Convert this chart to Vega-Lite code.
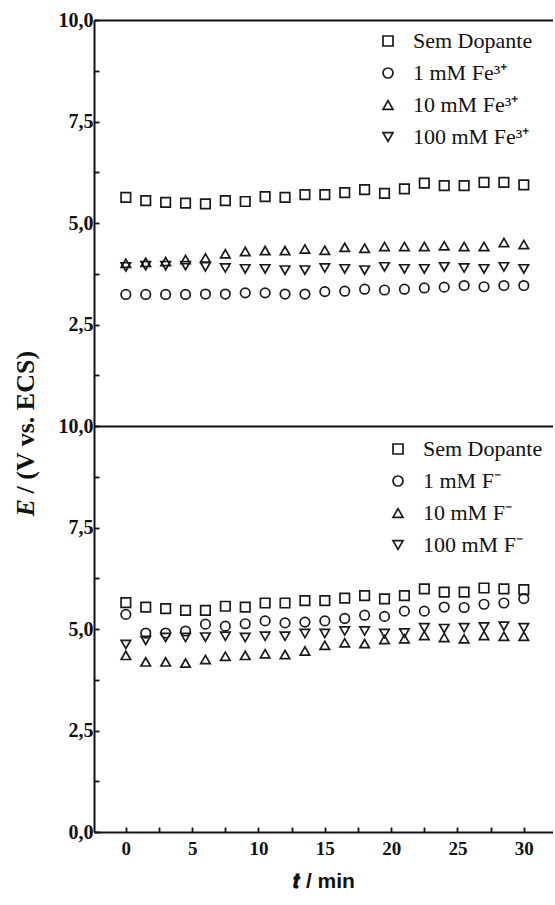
{
  "$schema": "https://vega.github.io/schema/vega-lite/v6.json",
  "background": "white",
  "padding": {"left": 12, "top": 10, "right": 0, "bottom": 2},
  "config": {
    "view": {"stroke": null},
    "axis": {
      "domainColor": "#111", "domainWidth": 2,
      "tickColor": "#111", "tickWidth": 1.8, "tickSize": -5,
      "labelFont": "Liberation Serif", "labelFontWeight": "bold", "labelFontSize": 20, "labelColor": "#111",
      "titleColor": "#111"
    }
  },
  "datasets": {
    "fe": [
      {"s":"Sem Dopante","t":0,"E":5.63},{"s":"Sem Dopante","t":1.5,"E":5.55},{"s":"Sem Dopante","t":3,"E":5.51},{"s":"Sem Dopante","t":4.5,"E":5.49},{"s":"Sem Dopante","t":6,"E":5.47},{"s":"Sem Dopante","t":7.5,"E":5.55},{"s":"Sem Dopante","t":9,"E":5.53},{"s":"Sem Dopante","t":10.5,"E":5.65},{"s":"Sem Dopante","t":12,"E":5.63},{"s":"Sem Dopante","t":13.5,"E":5.7},{"s":"Sem Dopante","t":15,"E":5.7},{"s":"Sem Dopante","t":16.5,"E":5.75},{"s":"Sem Dopante","t":18,"E":5.82},{"s":"Sem Dopante","t":19.5,"E":5.73},{"s":"Sem Dopante","t":21,"E":5.84},{"s":"Sem Dopante","t":22.5,"E":5.98},{"s":"Sem Dopante","t":24,"E":5.92},{"s":"Sem Dopante","t":25.5,"E":5.92},{"s":"Sem Dopante","t":27,"E":6.0},{"s":"Sem Dopante","t":28.5,"E":6.0},{"s":"Sem Dopante","t":30,"E":5.94},
      {"s":"1 mM Fe³⁺","t":0,"E":3.24},{"s":"1 mM Fe³⁺","t":1.5,"E":3.24},{"s":"1 mM Fe³⁺","t":3,"E":3.24},{"s":"1 mM Fe³⁺","t":4.5,"E":3.24},{"s":"1 mM Fe³⁺","t":6,"E":3.25},{"s":"1 mM Fe³⁺","t":7.5,"E":3.25},{"s":"1 mM Fe³⁺","t":9,"E":3.28},{"s":"1 mM Fe³⁺","t":10.5,"E":3.28},{"s":"1 mM Fe³⁺","t":12,"E":3.25},{"s":"1 mM Fe³⁺","t":13.5,"E":3.25},{"s":"1 mM Fe³⁺","t":15,"E":3.31},{"s":"1 mM Fe³⁺","t":16.5,"E":3.32},{"s":"1 mM Fe³⁺","t":18,"E":3.37},{"s":"1 mM Fe³⁺","t":19.5,"E":3.35},{"s":"1 mM Fe³⁺","t":21,"E":3.37},{"s":"1 mM Fe³⁺","t":22.5,"E":3.4},{"s":"1 mM Fe³⁺","t":24,"E":3.42},{"s":"1 mM Fe³⁺","t":25.5,"E":3.46},{"s":"1 mM Fe³⁺","t":27,"E":3.43},{"s":"1 mM Fe³⁺","t":28.5,"E":3.46},{"s":"1 mM Fe³⁺","t":30,"E":3.46},
      {"s":"10 mM Fe³⁺","t":0,"E":4.01},{"s":"10 mM Fe³⁺","t":1.5,"E":4.03},{"s":"10 mM Fe³⁺","t":3,"E":4.05},{"s":"10 mM Fe³⁺","t":4.5,"E":4.1},{"s":"10 mM Fe³⁺","t":6,"E":4.14},{"s":"10 mM Fe³⁺","t":7.5,"E":4.24},{"s":"10 mM Fe³⁺","t":9,"E":4.3},{"s":"10 mM Fe³⁺","t":10.5,"E":4.32},{"s":"10 mM Fe³⁺","t":12,"E":4.32},{"s":"10 mM Fe³⁺","t":13.5,"E":4.36},{"s":"10 mM Fe³⁺","t":15,"E":4.33},{"s":"10 mM Fe³⁺","t":16.5,"E":4.4},{"s":"10 mM Fe³⁺","t":18,"E":4.38},{"s":"10 mM Fe³⁺","t":19.5,"E":4.42},{"s":"10 mM Fe³⁺","t":21,"E":4.42},{"s":"10 mM Fe³⁺","t":22.5,"E":4.42},{"s":"10 mM Fe³⁺","t":24,"E":4.44},{"s":"10 mM Fe³⁺","t":25.5,"E":4.42},{"s":"10 mM Fe³⁺","t":27,"E":4.42},{"s":"10 mM Fe³⁺","t":28.5,"E":4.52},{"s":"10 mM Fe³⁺","t":30,"E":4.47},
      {"s":"100 mM Fe³⁺","t":0,"E":3.92},{"s":"100 mM Fe³⁺","t":1.5,"E":3.95},{"s":"100 mM Fe³⁺","t":3,"E":3.95},{"s":"100 mM Fe³⁺","t":4.5,"E":3.95},{"s":"100 mM Fe³⁺","t":6,"E":3.92},{"s":"100 mM Fe³⁺","t":7.5,"E":3.89},{"s":"100 mM Fe³⁺","t":9,"E":3.87},{"s":"100 mM Fe³⁺","t":10.5,"E":3.87},{"s":"100 mM Fe³⁺","t":12,"E":3.84},{"s":"100 mM Fe³⁺","t":13.5,"E":3.84},{"s":"100 mM Fe³⁺","t":15,"E":3.89},{"s":"100 mM Fe³⁺","t":16.5,"E":3.87},{"s":"100 mM Fe³⁺","t":18,"E":3.84},{"s":"100 mM Fe³⁺","t":19.5,"E":3.92},{"s":"100 mM Fe³⁺","t":21,"E":3.87},{"s":"100 mM Fe³⁺","t":22.5,"E":3.87},{"s":"100 mM Fe³⁺","t":24,"E":3.92},{"s":"100 mM Fe³⁺","t":25.5,"E":3.89},{"s":"100 mM Fe³⁺","t":27,"E":3.87},{"s":"100 mM Fe³⁺","t":28.5,"E":3.92},{"s":"100 mM Fe³⁺","t":30,"E":3.87}
    ],
    "f": [
      {"s":"Sem Dopante","t":0,"E":5.65},{"s":"Sem Dopante","t":1.5,"E":5.54},{"s":"Sem Dopante","t":3,"E":5.5},{"s":"Sem Dopante","t":4.5,"E":5.46},{"s":"Sem Dopante","t":6,"E":5.46},{"s":"Sem Dopante","t":7.5,"E":5.56},{"s":"Sem Dopante","t":9,"E":5.54},{"s":"Sem Dopante","t":10.5,"E":5.64},{"s":"Sem Dopante","t":12,"E":5.64},{"s":"Sem Dopante","t":13.5,"E":5.7},{"s":"Sem Dopante","t":15,"E":5.7},{"s":"Sem Dopante","t":16.5,"E":5.76},{"s":"Sem Dopante","t":18,"E":5.82},{"s":"Sem Dopante","t":19.5,"E":5.74},{"s":"Sem Dopante","t":21,"E":5.82},{"s":"Sem Dopante","t":22.5,"E":5.99},{"s":"Sem Dopante","t":24,"E":5.91},{"s":"Sem Dopante","t":25.5,"E":5.91},{"s":"Sem Dopante","t":27,"E":6.01},{"s":"Sem Dopante","t":28.5,"E":5.99},{"s":"Sem Dopante","t":30,"E":5.97},
      {"s":"1 mM F⁻","t":0,"E":5.36},{"s":"1 mM F⁻","t":1.5,"E":4.9},{"s":"1 mM F⁻","t":3,"E":4.9},{"s":"1 mM F⁻","t":4.5,"E":4.95},{"s":"1 mM F⁻","t":6,"E":5.12},{"s":"1 mM F⁻","t":7.5,"E":5.07},{"s":"1 mM F⁻","t":9,"E":5.13},{"s":"1 mM F⁻","t":10.5,"E":5.2},{"s":"1 mM F⁻","t":12,"E":5.15},{"s":"1 mM F⁻","t":13.5,"E":5.17},{"s":"1 mM F⁻","t":15,"E":5.2},{"s":"1 mM F⁻","t":16.5,"E":5.26},{"s":"1 mM F⁻","t":18,"E":5.34},{"s":"1 mM F⁻","t":19.5,"E":5.31},{"s":"1 mM F⁻","t":21,"E":5.44},{"s":"1 mM F⁻","t":22.5,"E":5.44},{"s":"1 mM F⁻","t":24,"E":5.54},{"s":"1 mM F⁻","t":25.5,"E":5.53},{"s":"1 mM F⁻","t":27,"E":5.61},{"s":"1 mM F⁻","t":28.5,"E":5.64},{"s":"1 mM F⁻","t":30,"E":5.75},
      {"s":"10 mM F⁻","t":0,"E":4.35},{"s":"10 mM F⁻","t":1.5,"E":4.19},{"s":"10 mM F⁻","t":3,"E":4.19},{"s":"10 mM F⁻","t":4.5,"E":4.16},{"s":"10 mM F⁻","t":6,"E":4.25},{"s":"10 mM F⁻","t":7.5,"E":4.33},{"s":"10 mM F⁻","t":9,"E":4.35},{"s":"10 mM F⁻","t":10.5,"E":4.39},{"s":"10 mM F⁻","t":12,"E":4.37},{"s":"10 mM F⁻","t":13.5,"E":4.46},{"s":"10 mM F⁻","t":15,"E":4.6},{"s":"10 mM F⁻","t":16.5,"E":4.66},{"s":"10 mM F⁻","t":18,"E":4.64},{"s":"10 mM F⁻","t":19.5,"E":4.74},{"s":"10 mM F⁻","t":21,"E":4.76},{"s":"10 mM F⁻","t":22.5,"E":4.84},{"s":"10 mM F⁻","t":24,"E":4.79},{"s":"10 mM F⁻","t":25.5,"E":4.76},{"s":"10 mM F⁻","t":27,"E":4.84},{"s":"10 mM F⁻","t":28.5,"E":4.82},{"s":"10 mM F⁻","t":30,"E":4.82},
      {"s":"100 mM F⁻","t":0,"E":4.62},{"s":"100 mM F⁻","t":1.5,"E":4.72},{"s":"100 mM F⁻","t":3,"E":4.79},{"s":"100 mM F⁻","t":4.5,"E":4.79},{"s":"100 mM F⁻","t":6,"E":4.8},{"s":"100 mM F⁻","t":7.5,"E":4.82},{"s":"100 mM F⁻","t":9,"E":4.79},{"s":"100 mM F⁻","t":10.5,"E":4.82},{"s":"100 mM F⁻","t":12,"E":4.82},{"s":"100 mM F⁻","t":13.5,"E":4.89},{"s":"100 mM F⁻","t":15,"E":4.89},{"s":"100 mM F⁻","t":16.5,"E":4.95},{"s":"100 mM F⁻","t":18,"E":4.95},{"s":"100 mM F⁻","t":19.5,"E":4.89},{"s":"100 mM F⁻","t":21,"E":4.9},{"s":"100 mM F⁻","t":22.5,"E":5.03},{"s":"100 mM F⁻","t":24,"E":5.01},{"s":"100 mM F⁻","t":25.5,"E":5.03},{"s":"100 mM F⁻","t":27,"E":5.05},{"s":"100 mM F⁻","t":28.5,"E":5.07},{"s":"100 mM F⁻","t":30,"E":5.03}
    ]
  },
  "spacing": 0,
  "bounds": "flush",
  "resolve": {"scale": {"shape": "independent"}, "legend": {"shape": "independent"}},
  "vconcat": [
    {
      "width": 459, "height": 406,
      "data": {"name": "fe"},
      "mark": {"type": "point", "filled": false, "color": "#1a1a1a", "strokeWidth": 1.7, "size": 90, "opacity": 1},
      "encoding": {
        "x": {"field": "t", "type": "quantitative", "scale": {"domain": [-2.4, 32.2], "nice": false, "zero": false}, "axis": null},
        "y": {"field": "E", "type": "quantitative", "scale": {"domain": [0, 10], "nice": false},
          "axis": {
            "values": [1.25, 2.5, 3.75, 5, 6.25, 7.5, 8.75, 10],
            "labelExpr": "datum.value % 2.5 == 0 ? replace(format(datum.value, '.1f'), '.', ',') : ''",
            "labelPadding": 6,
            "grid": true, "gridColor": "#111", "gridWidth": 2,
            "gridOpacity": {"condition": {"test": "datum.value == 10", "value": 1}, "value": 0},
            "title": "/ (V vs. ECS)", "titleFont": "Liberation Serif", "titleFontWeight": "bold", "titleFontSize": 26,
            "titleAlign": "left", "titleAngle": -90, "titleBaseline": "alphabetic", "titleX": -61, "titleY": 473
          }
        },
        "shape": {"field": "s", "type": "nominal",
          "scale": {"domain": ["Sem Dopante", "1 mM Fe³⁺", "10 mM Fe³⁺", "100 mM Fe³⁺"], "range": ["square", "circle", "triangle-up", "triangle-down"]},
          "legend": {"orient": "none", "legendX": 283, "legendY": 10, "title": null, "padding": 0,
            "labelFont": "Liberation Serif", "labelFontSize": 22, "labelColor": "#111", "labelLimit": 300,
            "symbolFillColor": "white", "symbolStrokeColor": "#1a1a1a", "symbolStrokeWidth": 1.7, "symbolSize": 100,
            "rowPadding": 10, "labelOffset": 14}
        }
      }
    },
    {
      "width": 459, "height": 406,
      "data": {"name": "f"},
      "mark": {"type": "point", "filled": false, "color": "#1a1a1a", "strokeWidth": 1.7, "size": 90, "opacity": 1},
      "encoding": {
        "x": {"field": "t", "type": "quantitative", "scale": {"domain": [-2.4, 32.2], "nice": false, "zero": false},
          "axis": {
            "grid": false,
            "values": [0, 2.5, 5, 7.5, 10, 12.5, 15, 17.5, 20, 22.5, 25, 27.5, 30],
            "labelExpr": "datum.value % 5 == 0 ? format(datum.value, 'd') : ''",
            "labelFontSize": 19, "labelPadding": 12,
            "title": "𝒕 / min", "titleFont": "Liberation Sans", "titleFontWeight": "bold", "titleFontSize": 21, "titlePadding": 12
          }
        },
        "y": {"field": "E", "type": "quantitative", "scale": {"domain": [0, 10], "nice": false},
          "axis": {
            "values": [0, 1.25, 2.5, 3.75, 5, 6.25, 7.5, 8.75, 10],
            "labelExpr": "datum.value % 2.5 == 0 ? replace(format(datum.value, '.1f'), '.', ',') : ''",
            "labelPadding": 6,
            "grid": true, "gridColor": "#111", "gridWidth": 2,
            "gridOpacity": {"condition": {"test": "datum.value == 10", "value": 1}, "value": 0},
            "title": "E", "titleFont": "Liberation Serif", "titleFontWeight": "bold", "titleFontStyle": "italic", "titleFontSize": 26,
            "titleAlign": "left", "titleAngle": -90, "titleBaseline": "alphabetic", "titleX": -61, "titleY": 90
          }
        },
        "shape": {"field": "s", "type": "nominal",
          "scale": {"domain": ["Sem Dopante", "1 mM F⁻", "10 mM F⁻", "100 mM F⁻"], "range": ["square", "circle", "triangle-up", "triangle-down"]},
          "legend": {"orient": "none", "legendX": 293, "legendY": 12, "title": null, "padding": 0,
            "labelFont": "Liberation Serif", "labelFontSize": 22, "labelColor": "#111", "labelLimit": 300,
            "symbolFillColor": "white", "symbolStrokeColor": "#1a1a1a", "symbolStrokeWidth": 1.7, "symbolSize": 100,
            "rowPadding": 10, "labelOffset": 14}
        }
      }
    }
  ]
}
